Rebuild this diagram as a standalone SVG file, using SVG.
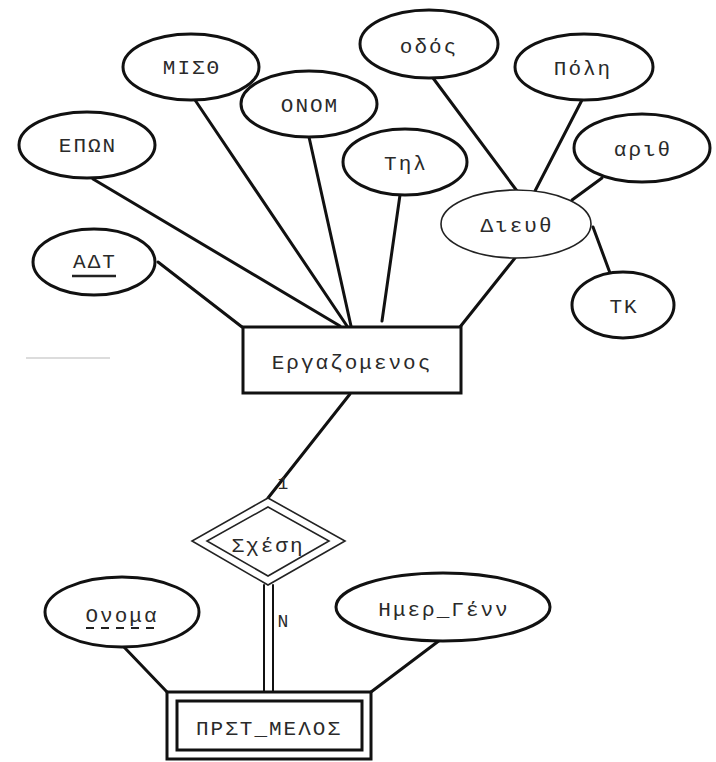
<svg xmlns="http://www.w3.org/2000/svg" width="716" height="762" viewBox="0 0 716 762">
<style>
.e{fill:#fff;stroke:#111;stroke-width:3}
.t{font-family:"Liberation Mono","DejaVu Sans Mono",monospace;font-size:21px;fill:#2a2a2a;text-anchor:middle;dominant-baseline:central;letter-spacing:2px}
.c line{stroke:#111;stroke-width:3;stroke-linecap:round}
.thin{fill:#fff;stroke:#222;stroke-width:1.6}
</style>
<rect width="716" height="762" fill="#fff"/>
<line x1="26" y1="358" x2="110" y2="358" stroke="#d0d0d0" stroke-width="1.5"/>
<g id="connectors" class="c">
<line x1="158" y1="262" x2="242" y2="327"/>
<line x1="93" y1="179" x2="340" y2="326"/>
<line x1="195" y1="100" x2="347" y2="326"/>
<line x1="309" y1="137" x2="351" y2="326"/>
<line x1="400" y1="195" x2="382" y2="321"/>
<line x1="515" y1="258" x2="460" y2="327"/>
<line x1="433" y1="78" x2="517" y2="191"/>
<line x1="582" y1="100" x2="535" y2="191"/>
<line x1="602" y1="178" x2="572" y2="200"/>
<line x1="593" y1="227" x2="610" y2="273"/>
<line x1="350" y1="394" x2="268" y2="498"/>
<line x1="123" y1="646" x2="167" y2="692"/>
<line x1="440" y1="640" x2="371" y2="692"/>
<line x1="264" y1="585" x2="264" y2="692" style="stroke-width:2"/>
<line x1="273" y1="585" x2="273" y2="692" style="stroke-width:2"/>
</g>
<g id="n-misth"><ellipse class="e" cx="191" cy="67" rx="68" ry="33"/><text class="t" x="192" y="68">ΜΙΣΘ</text></g>
<g id="n-onom"><ellipse class="e" cx="309" cy="104" rx="68" ry="33"/><text class="t" x="310" y="106">ΟΝΟΜ</text></g>
<g id="n-epon"><ellipse class="e" cx="87" cy="145" rx="68" ry="33"/><text class="t" x="88" y="146">ΕΠΩΝ</text></g>
<g id="n-adt"><ellipse class="e" cx="94" cy="262" rx="61" ry="33"/><text class="t" x="95" y="262">ΑΔΤ</text><line x1="72" y1="276" x2="116" y2="276" stroke="#222" stroke-width="2.5"/></g>
<g id="n-til"><ellipse class="e" cx="405" cy="162" rx="62" ry="33"/><text class="t" x="406" y="164">Τηλ</text></g>
<g id="n-odos"><ellipse class="e" cx="429" cy="44" rx="69" ry="34"/><text class="t" x="429" y="47">οδός</text></g>
<g id="n-poli"><ellipse class="e" cx="584" cy="67" rx="69" ry="33"/><text class="t" x="583" y="69">Πόλη</text></g>
<g id="n-arith"><ellipse class="e" cx="642" cy="148" rx="68" ry="34"/><text class="t" x="643" y="150">αριθ</text></g>
<g id="n-dieuth"><ellipse class="thin" cx="516" cy="224" rx="75" ry="34" stroke="#444"/><text class="t" x="517" y="226">Διευθ</text></g>
<g id="n-tk"><ellipse class="e" cx="623" cy="305" rx="51" ry="33"/><text class="t" x="624" y="307">ΤΚ</text></g>
<g id="n-ergazomenos"><rect x="243" y="327" width="218" height="66" fill="#fff" stroke="#111" stroke-width="3"/><text class="t" x="352" y="363">Εργαζομενος</text></g>
<g id="n-sxesi"><polygon class="thin" points="268,498 345,541 268,585 192,541"/><polygon fill="none" stroke="#222" stroke-width="1.6" points="268,507 329,541 268,576 207,541"/><text class="t" x="268" y="546">Σχέση</text></g>
<g id="n-onoma"><ellipse class="e" cx="122" cy="612" rx="77" ry="35"/><text class="t" x="122" y="616">Ονομα</text><line x1="86" y1="628" x2="160" y2="628" stroke="#222" stroke-width="2" stroke-dasharray="8,7"/></g>
<g id="n-imer"><ellipse class="e" cx="443" cy="607" rx="107" ry="34"/><text class="t" x="444" y="610">Ημερ_Γένν</text></g>
<g id="n-prst"><rect x="167" y="692" width="204" height="67" fill="#fff" stroke="#111" stroke-width="3"/><rect x="177" y="701" width="185" height="49" fill="none" stroke="#111" stroke-width="3"/><text class="t" x="269" y="729">ΠΡΣΤ_ΜΕΛΟΣ</text></g>
<text class="t" x="284" y="484" style="font-size:18px">1</text>
<text class="t" x="284" y="622" style="font-size:18px">N</text>
</svg>
